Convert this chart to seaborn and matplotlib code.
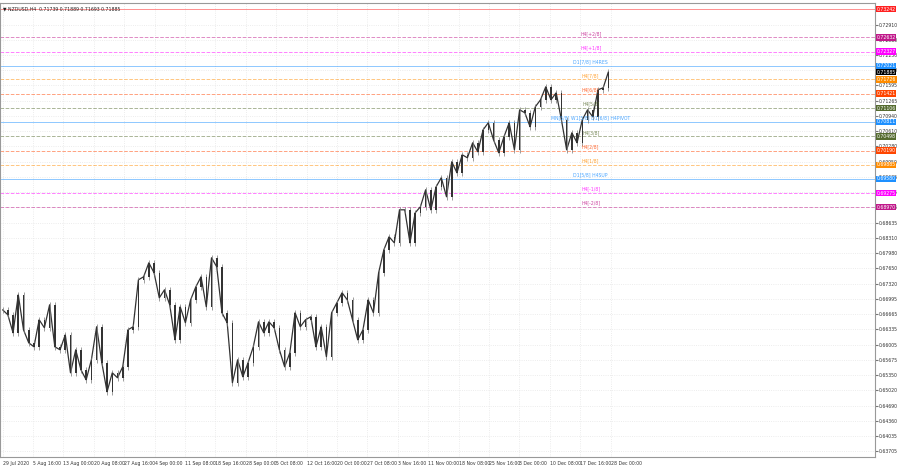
import matplotlib
matplotlib.use("Agg")
import matplotlib.pyplot as plt
import seaborn as sns
import numpy as np
import pandas as pd

closes = [0.66756, 0.66648, 0.66260, 0.67080, 0.66325, 0.66044, 0.65958, 0.66541, 0.66368, 0.66864,
          0.65958, 0.65893, 0.66217, 0.65397, 0.65893, 0.65462, 0.65246, 0.65678, 0.66390, 0.65613,
          0.64988, 0.65397, 0.65290, 0.65527, 0.66325, 0.66390, 0.67403, 0.67468, 0.67770, 0.67554,
          0.67015, 0.67188, 0.66864, 0.66109, 0.66821, 0.66476, 0.66972, 0.67252, 0.67468, 0.66821,
          0.67878, 0.67684, 0.66692, 0.66476, 0.65182, 0.65678, 0.65311, 0.65613, 0.65958, 0.66497,
          0.66260, 0.66497, 0.66368, 0.65893, 0.65527, 0.65829, 0.66692, 0.66390, 0.66541, 0.66605,
          0.65958, 0.66390, 0.65743, 0.66692, 0.66907, 0.67123, 0.66972, 0.66541, 0.66109, 0.66325,
          0.66972, 0.66692, 0.67554, 0.68050, 0.68331, 0.68201, 0.68913, 0.68913, 0.68201, 0.68849,
          0.68978, 0.69345, 0.68913, 0.69409, 0.69604, 0.69194, 0.69949, 0.69711, 0.70100, 0.70035,
          0.70358, 0.70164, 0.70639, 0.70790, 0.70423, 0.70143, 0.70488, 0.70790, 0.70207, 0.71070,
          0.71006, 0.70704, 0.71135, 0.71286, 0.71566, 0.71286, 0.71437, 0.70855, 0.70207, 0.70574,
          0.70358, 0.70855, 0.71070, 0.70919, 0.71502, 0.71545, 0.71890]

date_labels = ["29 Jul 2020", "5 Aug 16:00", "13 Aug 00:00", "20 Aug 08:00", "27 Aug 16:00",
               "4 Sep 00:00", "11 Sep 08:00", "18 Sep 16:00", "28 Sep 00:00", "5 Oct 08:00",
               "12 Oct 16:00", "20 Oct 00:00", "27 Oct 08:00", "3 Nov 16:00", "11 Nov 00:00",
               "18 Nov 08:00", "25 Nov 16:00", "3 Dec 00:00", "10 Dec 08:00", "17 Dec 16:00",
               "28 Dec 00:00"]

price_ticks = [0.72910, 0.72580, 0.72250, 0.71920, 0.71595, 0.71265, 0.70940, 0.70610, 0.70280,
               0.69950, 0.69625, 0.69295, 0.68965, 0.68635, 0.68310, 0.67980, 0.67650, 0.67320,
               0.66995, 0.66665, 0.66335, 0.66005, 0.65675, 0.65350, 0.65020, 0.64690, 0.64360,
               0.64035, 0.63705]

level_values = [0.73242, 0.72632, 0.72327, 0.72021, 0.71885, 0.71726, 0.71421, 0.71106, 0.70811,
                0.70498, 0.70190, 0.69885, 0.69580, 0.69275, 0.68970]
level_names = ["", "H4[+2/8]", "H4[+1/8]", "D1[7/8] H4RES", "", "H4[7/8]", "H4[6/8]", "H4[5/8]",
               "MN[5/8] W1[5/8] D1[6/8] H4PIVOT", "H4[3/8]", "H4[2/8]", "H4[1/8]",
               "D1[5/8] H4SUP", "H4[-1/8]", "H4[-2/8]"]
level_colors = ["#ff2020", "#c0188a", "#ff00ff", "#1e90ff", "#000000", "#ff8c00", "#ff4500",
                "#556b2f", "#1e90ff", "#556b2f", "#ff4500", "#ff8c00", "#1e90ff", "#ff00ff", "#c0188a"]
level_styles = ["-", "--", "--", "-", "-", "--", "--", "--", "-", "--", "--", "--", "-", "--", "--"]

sns.set_style("white")
plt.rcParams['font.family'] = ['DejaVu Sans']

fig = plt.figure(figsize=(9, 4.68), dpi=100)
ax = fig.add_axes([0.0, 0.024, 0.972, 0.97])

n = len(closes)
df = pd.DataFrame({"i": np.arange(n), "c": closes})
df["o"] = df["c"].shift(1).fillna(df["c"].iloc[0])
df["h"] = df[["o", "c"]].max(axis=1) + 0.0007
df["l"] = df[["o", "c"]].min(axis=1) - 0.0007

sns.lineplot(x="i", y="c", data=df, ax=ax, color="#333333", lw=0.9, zorder=2)
ax.vlines(df["i"], df["l"], df["h"], color="#777777", lw=0.5, zorder=3)
ax.bar(df["i"], (df["c"] - df["o"]).abs() + 0.00005, bottom=df[["o", "c"]].min(axis=1),
       width=0.3, color="#333333", edgecolor="none", zorder=3)

xmax = n * 875 / 613
ax.set_xlim(-0.5, xmax)
ax.set_ylim(0.63586, 0.73378)

fs = 3.3
for v, name, col, ls in zip(level_values, level_names, level_colors, level_styles):
    if col != "#000000":
        ax.axhline(v, color=col, ls=ls, lw=0.7, alpha=0.5, zorder=1)
    if name:
        ax.text(n * 590 / 613, v + 0.0003, name, color=col, fontsize=fs, ha="center",
                va="bottom", alpha=0.8, zorder=4)
    ax.text(1.002, v, f"{v:.5f}", transform=ax.get_yaxis_transform(), fontsize=fs,
            color="white", ha="left", va="center", zorder=6,
            bbox=dict(boxstyle="square,pad=0.15", fc=col, ec="none"))

ax.yaxis.tick_right()
ax.set_yticks(price_ticks)
ax.set_yticklabels([f"{t:.5f}" for t in price_ticks], fontsize=fs, color="#333333")
xt = [k * 30.5 / 613 * n for k in range(len(date_labels))]
ax.set_xticks(xt)
ax.set_xticklabels(date_labels, fontsize=fs, ha="left", color="#333333")
ax.tick_params(length=2, pad=1, colors="#777777")
for t in ax.get_xticklabels() + ax.get_yticklabels():
    t.set_color("#333333")
ax.grid(True, color="#e6e6e6", lw=0.6, ls=":")
ax.set_xlabel("")
ax.set_ylabel("")
for s in ax.spines.values():
    s.set_color("#999999")
    s.set_linewidth(0.8)

ax.text(0.003, 0.992, "\u25bc NZDUSD,H4  0.71739 0.71889 0.71693 0.71885", transform=ax.transAxes,
        fontsize=fs, va="top", ha="left", color="#222222")

fig.savefig("out.png", dpi=100)
